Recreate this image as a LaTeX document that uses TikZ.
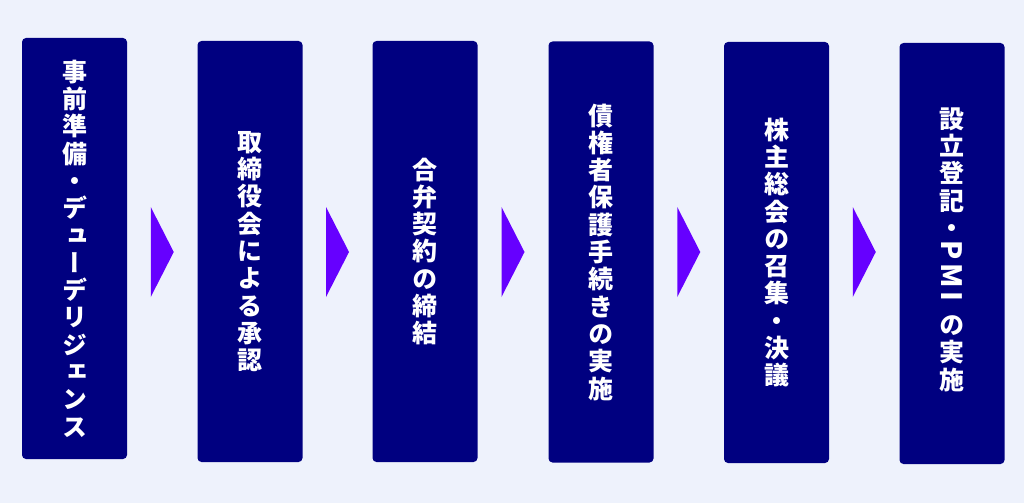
\documentclass[tikz,border=0pt]{standalone}
\usepackage{fontspec}
\usepackage{graphicx}
\newfontfamily\jp{Noto Sans CJK JP}[RawFeature=+vert]
\usetikzlibrary{calc}
\definecolor{bgc}{HTML}{EEF2FC}
\definecolor{boxc}{HTML}{000080}
\definecolor{arrc}{HTML}{6600FF}
\begin{document}
\begin{tikzpicture}[x=1pt,y=-1pt,
  stepbox/.style={fill=boxc, rounded corners=4pt, minimum width=105pt,
    minimum height=421pt, inner sep=0pt, text=white, align=center,
    font=\jp\bfseries\fontsize{25}{27.3}\selectfont},
  arrowtri/.style={fill=arrc}]
\fill[bgc] (0,0) rectangle (1024,503);
\useasboundingbox (0,0) rectangle (1024,503);
\node[stepbox] (b1) at (74.5,248.5) {事\\前\\準\\備\\・\\デ\\ュ\\ー\\デ\\リ\\ジ\\ェ\\ン\\ス};
\node[stepbox] (b2) at (250,251.5) {取\\締\\役\\会\\に\\よ\\る\\承\\認};
\node[stepbox] (b3) at (425,251.5) {合\\弁\\契\\約\\の\\締\\結};
\node[stepbox] (b4) at (601,252) {債\\権\\者\\保\\護\\手\\続\\き\\の\\実\\施};
\node[stepbox] (b5) at (776.5,252.5) {株\\主\\総\\会\\の\\召\\集\\・\\決\\議};
\node[stepbox] (b6) at (952,253.5) {設\\立\\登\\記\\・\\[-24.8pt]\rotatebox{-90}{\fontsize{28}{28}\selectfont P\kern4pt M\kern4pt I}\\[13pt]の\\実\\施\\[-17pt]\mbox{}};
\coordinate (tipy) at (0,252);
\foreach \a/\b/\m in {b1/b2/m1, b2/b3/m2, b3/b4/m3, b4/b5/m4, b5/b6/m5} {
  \coordinate (\m) at ($(\a.east)!0.5!(\b.west)$);
  \coordinate (\m c) at (\m |- tipy);
  \fill[arrowtri] ($(\m c)+(-11.5,-45)$) -- ($(\m c)+(11.5,0)$) -- ($(\m c)+(-11.5,45)$) -- cycle;
}
\end{tikzpicture}
\end{document}
